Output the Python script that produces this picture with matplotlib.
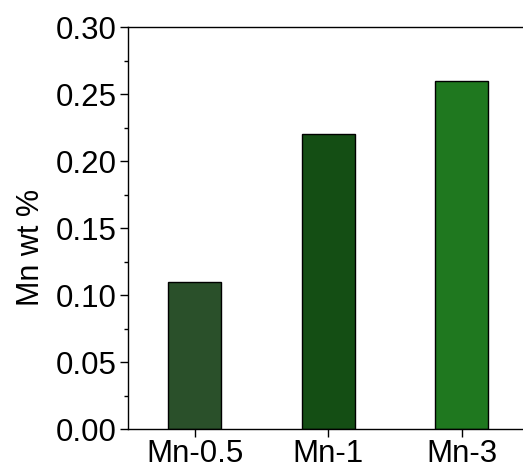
import matplotlib
import matplotlib.pyplot as plt
import numpy as np
from matplotlib.ticker import MultipleLocator, FormatStrFormatter

matplotlib.use('Agg')
plt.rcParams['font.family'] = ['Liberation Sans', 'DejaVu Sans']

samples = ['Mn-0.5', 'Mn-1', 'Mn-3']
mn_wt = [0.11, 0.22, 0.26]
bar_colors = ['#2a502a', '#144e14', '#1f781f']

fig = plt.figure(figsize=(5.23, 4.70), dpi=100)
ax = fig.add_axes([0.245, 0.087, 0.765, 0.855])

x = np.arange(len(samples))
ax.bar(x, mn_wt, width=0.4, color=bar_colors, edgecolor='black', linewidth=1)

ax.set_xlim(-0.5, 2.5)
ax.set_ylim(0, 0.30)
ax.set_xticks(x)
ax.set_xticklabels(samples)
ax.yaxis.set_major_locator(MultipleLocator(0.05))
ax.yaxis.set_minor_locator(MultipleLocator(0.025))
ax.yaxis.set_major_formatter(FormatStrFormatter('%.2f'))
ax.set_ylabel('Mn wt %', fontsize=22)
ax.yaxis.set_label_coords(-0.205, 0.453)

ax.spines['right'].set_visible(False)
for s in ['left', 'bottom', 'top']:
    ax.spines[s].set_linewidth(1.0)

ax.tick_params(axis='both', which='major', labelsize=22.5, length=6, width=1, direction='out')
ax.tick_params(axis='y', which='minor', length=3, width=1, direction='out')
ax.tick_params(axis='y', which='major', pad=2)
ax.tick_params(axis='x', which='major', pad=1)

fig.savefig('out.png', dpi=100)
